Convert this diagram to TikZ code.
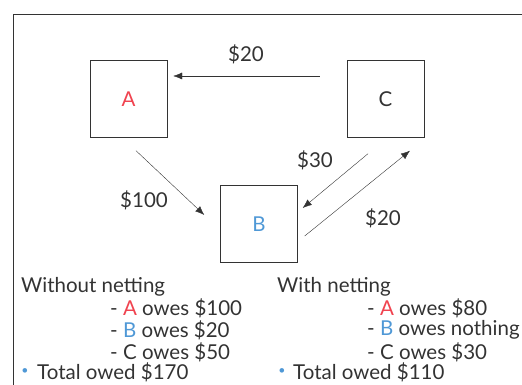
\documentclass[tikz,border=0pt]{standalone}
\usepackage{fontspec}
\setmainfont{Lato}
\usetikzlibrary{arrows.meta}
\definecolor{ink}{HTML}{333333}
\definecolor{red}{HTML}{F0434F}
\definecolor{blue}{HTML}{4F98D6}
\tikzset{
  party/.style={draw=ink, minimum size=77pt, inner sep=0pt, text=ink},
  owe/.style={draw=ink, -{Latex[length=9pt,width=7pt]}},
  txt/.style={text=ink, inner sep=0pt, anchor=west}
}
\begin{document}
\begin{tikzpicture}[x=1pt,y=1pt,font=\fontsize{20.5}{24}\selectfont]
					\useasboundingbox (0,0) rectangle (522,385);
					\draw[ink] (13,0) -- (13,371) -- (522,371);
					\node (A) at (128.5,286)[party]{\textcolor{red}{A}};
					\node (C) at (385.5,286)[party]{C};
					\node (B) at (259,161)[party]{\textcolor{blue}{B}};
					\draw[owe] ([xshift=-27pt,yshift=23pt]C.west) -- ([xshift=6pt,yshift=23pt]A.east);
					\draw[owe] ([xshift=7.5pt,yshift=-13pt]A.south) -- ([xshift=-16pt,yshift=9pt]B.west);
					\draw[owe] ([xshift=-17.5pt,yshift=-16pt]C.south) -- ([xshift=5pt,yshift=16pt]B.east);
					\draw[owe] ([xshift=7pt,yshift=-12pt]B.east) -- ([xshift=24.5pt,yshift=-13pt]C.south);
					\node (ca) at (246,331)[text=ink]{\$20};
					\node (ab) at (144,185)[text=ink]{\$100};
					\node (cb) at (315,225)[text=ink]{\$30};
					\node (bc) at (383,167)[text=ink]{\$20};
					% without netting
					\node (w0) at (21,98)[txt]{Without netting};
					\node (w1) at (110,77)[txt]{- \textcolor{red}{A} owes \$100};
					\node (w2) at (110,55)[txt]{- \textcolor{blue}{B} owes \$20};
					\node (w3) at (110,33)[txt]{- C owes \$50};
					\node (wb) at (25,13)[text=blue,scale=0.6]{\textbullet};
					\node (wt) at (37,13)[txt]{Total owed \$170};
					% with netting
					\node (n0) at (277,98)[txt]{With netting};
					\node (n1) at (367,77)[txt]{- \textcolor{red}{A} owes \$80};
					\node (n2) at (367,55)[txt]{- \textcolor{blue}{B} owes nothing};
					\node (n3) at (367,33)[txt]{- C owes \$30};
					\node (nb) at (282,13)[text=blue,scale=0.6]{\textbullet};
					\node (nt) at (293,13)[txt]{Total owed \$110};
				\end{tikzpicture}
\end{document}
